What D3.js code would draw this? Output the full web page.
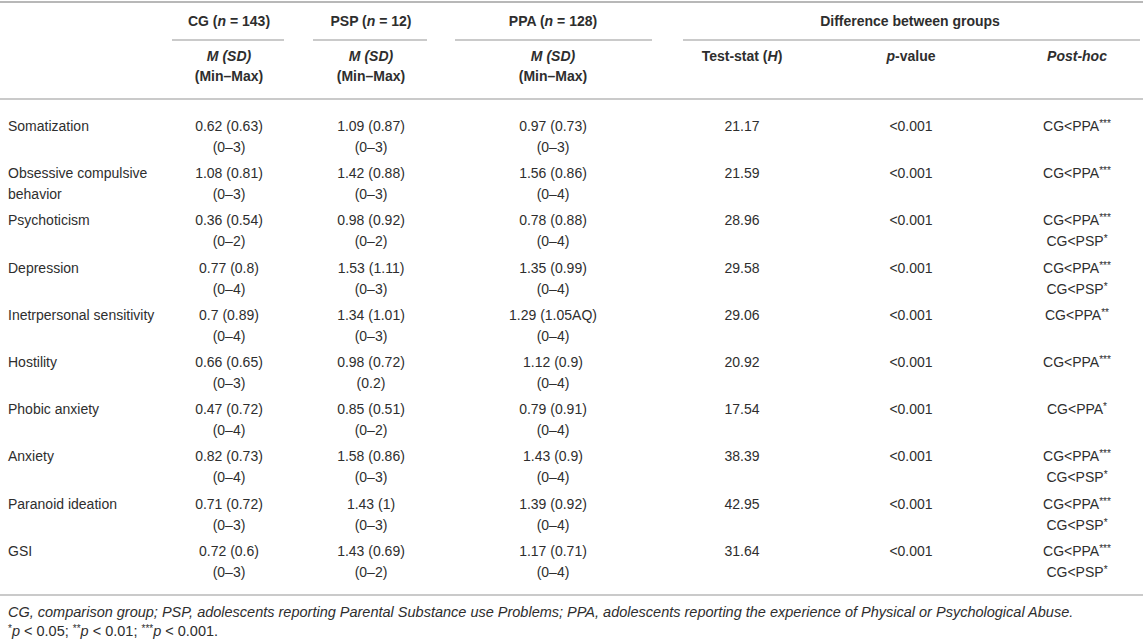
<!DOCTYPE html>
<html>
<head>
<meta charset="utf-8">
<script src="https://cdn.jsdelivr.net/npm/d3@7"></script>
<style>
  body { margin: 0; background: #fff; }
  svg { display: block; font-family: "Liberation Sans", Arial, Helvetica, sans-serif; }
</style>
</head>
<body>
<div id="table"></div>
<script>
// Table values
const measures = ["Somatization", "Obsessive compulsive behavior", "Psychoticism", "Depression",
  "Inetrpersonal sensitivity", "Hostility", "Phobic anxiety", "Anxiety", "Paranoid ideation", "GSI"];

const cgMean  = [0.62, 1.08, 0.36, 0.77, 0.7, 0.66, 0.47, 0.82, 0.71, 0.72];
const cgSD    = ["0.63", "0.81", "0.54", "0.8", "0.89", "0.65", "0.72", "0.73", "0.72", "0.6"];
const cgRange = ["0–3", "0–3", "0–2", "0–4", "0–4", "0–3", "0–4", "0–4", "0–3", "0–3"];

const pspMean  = [1.09, 1.42, 0.98, 1.53, 1.34, 0.98, 0.85, 1.58, 1.43, 1.43];
const pspSD    = ["0.87", "0.88", "0.92", "1.11", "1.01", "0.72", "0.51", "0.86", "1", "0.69"];
const pspRange = ["0–3", "0–3", "0–2", "0–3", "0–3", "0.2", "0–2", "0–3", "0–3", "0–2"];

const ppaMean  = [0.97, 1.56, 0.78, 1.35, 1.29, 1.12, 0.79, 1.43, 1.39, 1.17];
const ppaSD    = ["0.73", "0.86", "0.88", "0.99", "1.05AQ", "0.9", "0.91", "0.9", "0.92", "0.71"];
const ppaRange = ["0–3", "0–4", "0–4", "0–4", "0–4", "0–4", "0–4", "0–4", "0–4", "0–4"];

const testStatH = [21.17, 21.59, 28.96, 29.58, 29.06, 20.92, 17.54, 38.39, 42.95, 31.64];
const pValues   = ["<0.001", "<0.001", "<0.001", "<0.001", "<0.001", "<0.001", "<0.001", "<0.001", "<0.001", "<0.001"];
const postHoc   = [["CG<PPA***"], ["CG<PPA***"], ["CG<PPA***", "CG<PSP*"], ["CG<PPA***", "CG<PSP*"],
  ["CG<PPA**"], ["CG<PPA***"], ["CG<PPA*"], ["CG<PPA***", "CG<PSP*"], ["CG<PPA***", "CG<PSP*"],
  ["CG<PPA***", "CG<PSP*"]];

const columns = ["label", "cg", "psp", "ppa", "h", "p", "post"];

// header pieces: [text, bold, italic]
const groupHeaders = [
  { col: "cg",  parts: [["CG (", 1, 0], ["n", 1, 1], [" = 143)", 1, 0]] },
  { col: "psp", parts: [["PSP (", 1, 0], ["n", 1, 1], [" = 12)", 1, 0]] },
  { col: "ppa", parts: [["PPA (", 1, 0], ["n", 1, 1], [" = 128)", 1, 0]] },
  { col: "diff", parts: [["Difference between groups", 1, 0]] }
];
const subHeaders = [
  { col: "cg",  lines: [[["M (SD)", 1, 1]], [["(Min–Max)", 1, 0]]] },
  { col: "psp", lines: [[["M (SD)", 1, 1]], [["(Min–Max)", 1, 0]]] },
  { col: "ppa", lines: [[["M (SD)", 1, 1]], [["(Min–Max)", 1, 0]]] },
  { col: "h",   lines: [[["Test-stat (", 1, 0], ["H", 1, 1], [")", 1, 0]]] },
  { col: "p",   lines: [[["p", 1, 1], ["-value", 1, 0]]] },
  { col: "post", lines: [[["Post-hoc", 1, 1]]] }
];
const footnote1 = "CG, comparison group; PSP, adolescents reporting Parental Substance use Problems; PPA, adolescents reporting the experience of Physical or Psychological Abuse.";

// ---------- layout ----------
const W = 1143, H = 644;
const textColor = "#2e2e2e";
const ruleColor = "#b8b8b8";
const fs = 14;

const svg = d3.select("#table").append("svg")
  .attr("width", W).attr("height", H);

const x = d3.scaleOrdinal()
  .domain(columns.concat(["diff"]))
  .range([8, 229, 371, 553, 742, 911, 1077, 910]);

// group underline extents
const spans = { cg: [172, 284], psp: [313, 427], ppa: [455, 652], diff: [683, 1140] };

const y = d3.scaleBand()
  .domain(measures)
  .range([108, 580]);

function addParts(textSel, parts) {
  parts.forEach(([t, b, it]) => {
    textSel.append("tspan")
      .attr("font-weight", b ? "bold" : "normal")
      .attr("font-style", it ? "italic" : "normal")
      .text(t);
  });
}

// superscript the trailing stars
function addStars(textSel, s) {
  const m = s.match(/^(.*?)(\*+)$/);
  if (!m) { textSel.text(s); return; }
  textSel.append("tspan").text(m[1]);
  textSel.append("tspan").attr("font-size", fs * 0.72).attr("dy", -4).text(m[2]);
}

// rules
svg.append("line").attr("x1", 0).attr("x2", W).attr("y1", 2).attr("y2", 2)
  .attr("stroke", ruleColor).attr("stroke-width", 2);
svg.append("line").attr("x1", 0).attr("x2", W).attr("y1", 99).attr("y2", 99)
  .attr("stroke", ruleColor).attr("stroke-width", 1.5);
svg.append("line").attr("x1", 0).attr("x2", W).attr("y1", 595).attr("y2", 595)
  .attr("stroke", ruleColor).attr("stroke-width", 1.5);

// header row 1
groupHeaders.forEach(g => {
  const t = svg.append("text")
    .attr("x", x(g.col)).attr("y", 26)
    .attr("text-anchor", "middle")
    .attr("font-size", fs).attr("fill", textColor);
  addParts(t, g.parts);
  const [a, b] = spans[g.col];
  svg.append("line").attr("x1", a).attr("x2", b).attr("y1", 40).attr("y2", 40)
    .attr("stroke", ruleColor).attr("stroke-width", 1.5);
});

// header row 2
subHeaders.forEach(h => {
  h.lines.forEach((ln, i) => {
    const t = svg.append("text")
      .attr("x", x(h.col)).attr("y", 61 + i * 20)
      .attr("text-anchor", "middle")
      .attr("font-size", fs).attr("fill", textColor);
    addParts(t, ln);
  });
});

// body rows
const rows = measures.map((m, i) => ({
  measure: m,
  cg: [`${cgMean[i]} (${cgSD[i]})`, `(${cgRange[i]})`],
  psp: [`${pspMean[i]} (${pspSD[i]})`, `(${pspRange[i]})`],
  ppa: [`${ppaMean[i]} (${ppaSD[i]})`, `(${ppaRange[i]})`],
  h: [String(testStatH[i])],
  p: [pValues[i]],
  post: postHoc[i]
}));

const lineGap = 21;
const rowG = svg.selectAll(".row")
  .data(rows)
  .enter().append("g")
  .attr("class", "row")
  .attr("transform", d => `translate(0,${y(d.measure) + 23})`);

// label column with wrapping
rowG.append("text")
  .attr("x", x("label")).attr("y", 0)
  .attr("font-size", fs).attr("fill", textColor)
  .each(function(d) {
    const el = d3.select(this);
    const words = d.measure.split(" ");
    let line = [];
    let tspan = el.append("tspan").attr("x", x("label")).attr("dy", 0);
    words.forEach(w => {
      line.push(w);
      tspan.text(line.join(" "));
      if (tspan.node().getComputedTextLength() > 158 && line.length > 1) {
        line.pop();
        tspan.text(line.join(" "));
        line = [w];
        tspan = el.append("tspan").attr("x", x("label")).attr("dy", lineGap).text(w);
      }
    });
  });

["cg", "psp", "ppa", "h", "p", "post"].forEach(col => {
  rowG.each(function(d) {
    const g = d3.select(this);
    d[col].forEach((s, j) => {
      const t = g.append("text")
        .attr("x", x(col)).attr("y", j * lineGap)
        .attr("text-anchor", "middle")
        .attr("font-size", fs).attr("fill", textColor);
      if (col === "post") addStars(t, s); else t.text(s);
    });
  });
});

// footnotes
const fnSize = 14.5;
svg.append("text")
  .attr("x", 8).attr("y", 617)
  .attr("font-size", fnSize).attr("font-style", "italic").attr("fill", textColor)
  .text(footnote1);

const fn2 = svg.append("text")
  .attr("x", 8).attr("y", 636)
  .attr("font-size", fnSize).attr("fill", textColor);
[["*", "p", " < 0.05; "], ["**", "p", " < 0.01; "], ["***", "p", " < 0.001."]].forEach(([st, p, rest]) => {
  fn2.append("tspan").attr("font-size", 10).attr("dy", -4).text(st);
  fn2.append("tspan").attr("font-style", "italic").attr("dy", 4).text(p);
  fn2.append("tspan").text(rest);
});
</script>
</body>
</html>
